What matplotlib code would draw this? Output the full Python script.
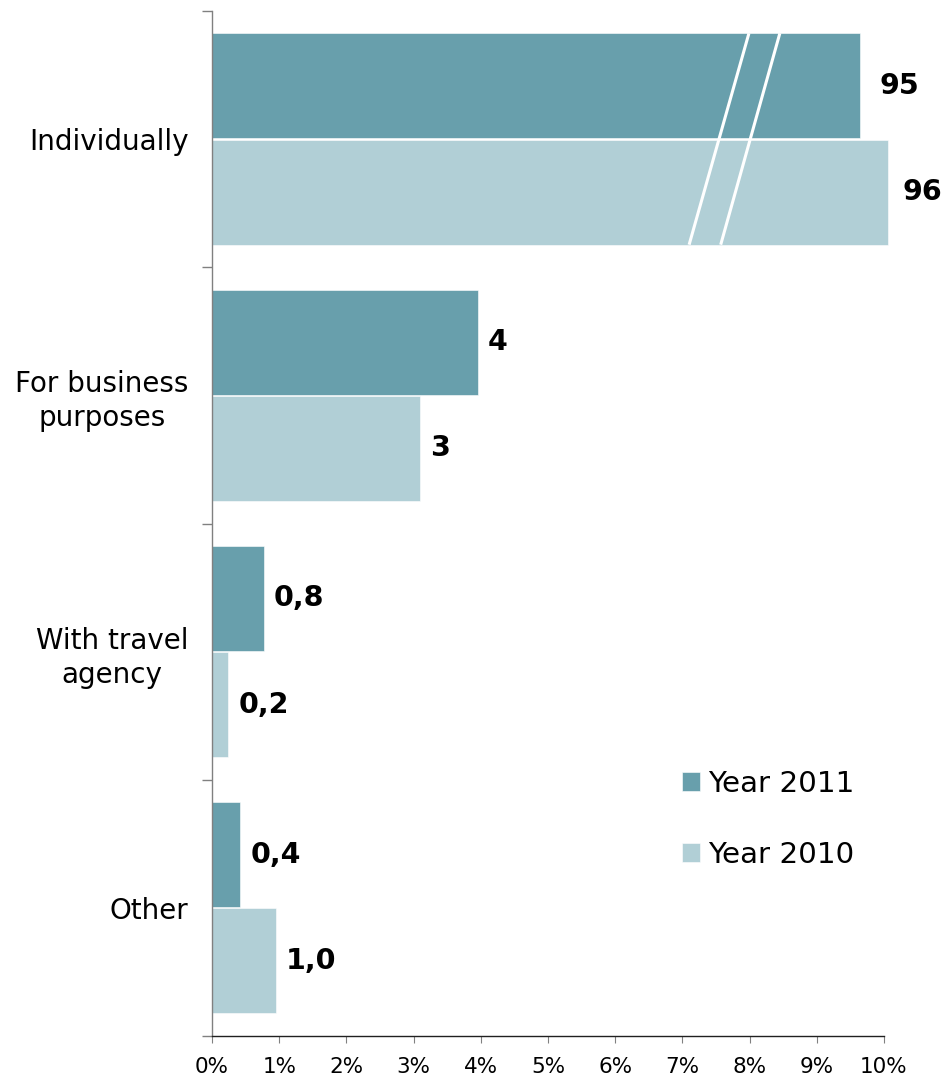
import matplotlib.pyplot as plt
import numpy as np

# data (bar lengths in % of the 0-10% axis; first group is drawn broken)
categories = ["Individually", "For business\npurposes", "With travel\nagency", "Other"]
bar_2011 = [9.65, 3.96, 0.77, 0.42]
bar_2010 = [10.06, 3.10, 0.24, 0.95]
labels_2011 = ["95", "4", "0,8", "0,4"]
labels_2010 = ["96", "3", "0,2", "1,0"]
xticks = np.arange(0, 11, 1)

c2011 = "#689fac"
c2010 = "#b1cfd6"

fig = plt.figure(figsize=(9.44, 10.79), dpi=100)
ax = fig.add_axes([212 / 944, 43 / 1079, 672 / 944, 1025 / 1079])

y = np.arange(len(categories))
h = 0.41
ax.barh(y - 0.208, bar_2011, height=h, color=c2011, edgecolor="white", linewidth=0.4,
        label="Year 2011", clip_on=False, zorder=2)
ax.barh(y + 0.207, bar_2010, height=h, color=c2010, edgecolor="white", linewidth=0.4,
        label="Year 2010", clip_on=False, zorder=2)

# break marks on the "Individually" bars
top = -0.208 - h / 2
bot = 0.207 + h / 2
for xt, xb in [(7.99, 7.10), (8.45, 7.57)]:
    ax.plot([xt, xb], [top, bot], color="white", lw=2.2, zorder=3, solid_capstyle="butt")

# value labels (gap in px between bar end and text)
gaps_2011 = [19, 10, 10, 10]
gaps_2010 = [14, 10, 10, 10]
for i in range(len(categories)):
    ax.annotate(labels_2011[i], (bar_2011[i], y[i] - 0.208), xytext=(gaps_2011[i] * 0.72, 0),
                textcoords="offset points", va="center", ha="left",
                fontsize=20.5, fontweight="bold", annotation_clip=False)
    ax.annotate(labels_2010[i], (bar_2010[i], y[i] + 0.207), xytext=(gaps_2010[i] * 0.72, 0),
                textcoords="offset points", va="center", ha="left",
                fontsize=20.5, fontweight="bold", annotation_clip=False)

ax.set_xlim(0, 10)
ax.set_ylim(3.5, -0.5)

ax.set_xticks(xticks)
ax.set_xticklabels([f"{v}%" for v in xticks], fontsize=15.5)
ax.tick_params(axis="x", length=5, width=0.8, color="#808080", pad=10)

ax.set_yticks(y)
ax.set_yticklabels(categories, fontsize=20, multialignment="center")
for t in ax.get_yticklabels():
    t.set_linespacing(1.27)
ax.tick_params(axis="y", which="major", length=0, pad=17)
ax.set_yticks(np.arange(-0.5, 4, 1), minor=True)
ax.tick_params(axis="y", which="minor", length=7, width=1, color="#808080")

ax.spines["top"].set_visible(False)
ax.spines["right"].set_visible(False)
ax.spines["left"].set_color("#808080")
ax.spines["bottom"].set_color("#202020")
ax.spines["left"].set_linewidth(1)
ax.spines["bottom"].set_linewidth(1)

fig.legend(loc="upper left", bbox_to_anchor=(682 / 944, 1 - 770 / 1079), frameon=False,
           fontsize=21.2, handlelength=0.6, handleheight=0.6, handletextpad=0.3,
           labelspacing=1.45, borderpad=0, borderaxespad=0)

plt.savefig("out.png", dpi=100)
